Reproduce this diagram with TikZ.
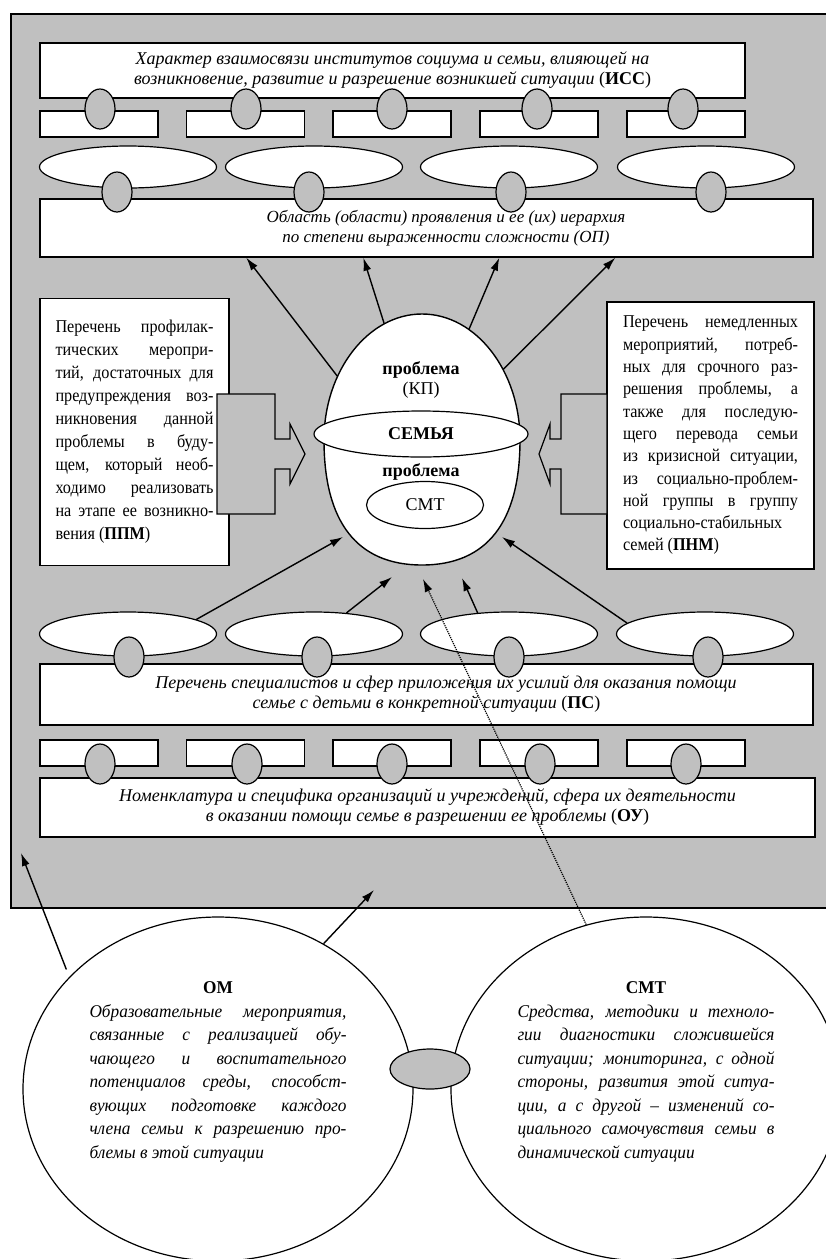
\documentclass[tikz,border=0pt]{standalone}
\usepackage{fontspec}
\setmainfont{Liberation Serif}
\newfontfamily\uzk[FakeStretch=0.9]{Liberation Serif}
\newfontfamily\uzkk[FakeStretch=0.96]{Liberation Serif}
\usepackage{tikz}
\usetikzlibrary{shapes.geometric,arrows.meta}
\definecolor{fon}{RGB}{192,192,192}
\hyphenpenalty=10000
\exhyphenpenalty=10000

\begin{document}
\begin{tikzpicture}[x=1pt,y=-1pt,
	box/.style={draw,line width=1.4pt,fill=white,inner sep=0pt},
	okno/.style={box,minimum width=118pt,minimum height=26pt},
	oval/.style={ellipse,draw,line width=1.2pt,fill=white,minimum width=177pt,minimum height=42pt,inner sep=0pt},
	zveno/.style={ellipse,draw,line width=1.2pt,fill=fon,minimum width=30pt,minimum height=40pt,inner sep=0pt},
	strel/.style={line width=1.4pt,-{Latex[length=13pt,width=8pt]}},
	kurs/.style={font=\fontsize{18}{20}\selectfont\itshape,align=center},
	pryam/.style={font=\fontsize{18}{20}\selectfont},
	spisok/.style={box,minimum height=267pt,align=justify,font=\uzk\fontsize{18}{23}\selectfont},
	krug/.style={ellipse,draw,line width=1.2pt,fill=white,minimum width=390pt,minimum height=344pt},
	podpis/.style={text width=257pt,align=justify,font=\uzkk\fontsize{18}{23.5}\selectfont}]
	\useasboundingbox (0,0) rectangle (826,1259);

	\fill[fon] (11,14) rectangle (826,908);
	\draw[line width=1.4pt] (826,14) -- (11,14) -- (11,908) -- (826,908);

	\node[box,kurs,minimum width=705pt,minimum height=55pt] (iss) at (392.5,70.5) {Характер взаимосвязи институтов социума и семьи, влияющей на\\возникновение, развитие и разрешение возникшей ситуации \textup{(\textbf{ИСС})}};
	\foreach \x [count=\i] in {99,245.5,392,539,686}
		\node[okno] (ok\i) at (\x,124) {};
	\foreach \x [count=\i] in {128,314,509,706}
		\node[oval] (ov\i) at (\x,167) {};
	\node[box,kurs,font=\fontsize{17}{20}\selectfont\itshape,minimum width=773pt,minimum height=58pt] (op) at (426.5,228) {\hspace*{39pt}Область (области) проявления и ее (их) иерархия\\\hspace*{39pt}по степени выраженности сложности (ОП)};
	\foreach \x [count=\i] in {100,246,392,537,683}
		\node[zveno] (zv\i) at (\x,109) {};
	\foreach \x [count=\i] in {117,309,511,711}
		\node[zveno] (zo\i) at (\x,192) {};

	\node[spisok,minimum width=189pt,text width=158pt] (ppm) at (134.5,432) {Перечень профилак-\linebreak тических меропри-\linebreak тий, достаточных для\linebreak предупреждения воз-\linebreak никновения данной\linebreak проблемы в буду-\linebreak щем, который необ-\linebreak ходимо реализовать\linebreak на этапе ее возникно-\linebreak вения (\textbf{ППМ})};
	\node[spisok,minimum width=207pt,text width=175pt,font=\uzk\fontsize{18}{22.3}\selectfont] (pnm) at (710.5,435.5) {Перечень немедленных\linebreak мероприятий, потреб-\linebreak ных для срочного раз-\linebreak решения проблемы, а\linebreak также для последую-\linebreak щего перевода семьи\linebreak из кризисной ситуации,\linebreak из социально-проблем-\linebreak ной группы в группу\linebreak социально-стабильных\linebreak семей (\textbf{ПНМ})};

	\draw[line width=1.2pt,fill=fon] (217,394) -- (275,394) -- (275,439) -- (290,439) -- (290,424) -- (305,454) -- (290,484) -- (290,469) -- (275,469) -- (275,514) -- (217,514) -- cycle;
	\draw[line width=1.2pt,fill=fon] (607,394) -- (561,394) -- (561,439) -- (550,439) -- (550,424) -- (539,454) -- (550,484) -- (550,469) -- (561,469) -- (561,514) -- (607,514) -- cycle;

	% egg: narrow top, full bottom
	\node[ellipse,minimum width=196pt,minimum height=251pt] (egg) at (422,440) {};
	\draw[line width=1.4pt,fill=white] (324,440) .. controls (324,371) and (368,314) .. (422,314) .. controls (476,314) and (520,371) .. (520,440) .. controls (520,522) and (487,565) .. (422,565) .. controls (357,565) and (324,522) .. cycle;
	\node[pryam,align=center] (kp) at (421,380) {\textbf{проблема}\\(КП)};
	\node[oval,pryam,minimum width=214pt,minimum height=46pt] (sem) at (421,434) {\textbf{СЕМЬЯ}};
	\node[pryam] (pr) at (421,472) {\textbf{проблема}};
	\node[oval,pryam,minimum width=117pt,minimum height=47pt] (smt) at (425,505) {СМТ};

	\foreach \x [count=\i] in {128,314,509,705}
		\node[oval,minimum height=44pt] (nv\i) at (\x,634) {};
	\node[box,kurs,minimum width=773pt,minimum height=61pt] (ps) at (426.5,694.5) {\hspace*{39pt}Перечень специалистов и сфер приложения их усилий для оказания помощи\\семье с детьми в конкретной ситуации \textup{(\textbf{ПС})}};
	\foreach \x [count=\i] in {99,245.5,392,539,686}
		\node[okno] (on\i) at (\x,753) {};
	\node[box,kurs,minimum width=775pt,minimum height=59pt] (ou) at (427.5,807.5) {Номенклатура и специфика организаций и учреждений, сфера их деятельности\\в оказании помощи семье в разрешении ее проблемы \textup{(\textbf{ОУ})}};
	\foreach \x [count=\i] in {129,317,509,708}
		\node[zveno] (zn\i) at (\x,657) {};
	\foreach \x [count=\i] in {100,247,392,540,686}
		\node[zveno] (zu\i) at (\x,764) {};

	\node[krug] (om) at (218,1089) {};
	\node[krug] (smtc) at (646,1089) {};
	\node[zveno,minimum width=80pt] (svz) at (430,1069) {};
	\node[podpis] (omtxt) at (218,1072) {{\centering\textbf{ОМ}\par}\itshape Образовательные мероприятия,\linebreak связанные с реализацией обу-\linebreak чающего и воспитательного\linebreak потенциалов среды, способст-\linebreak вующих подготовке каждого\linebreak члена семьи к разрешению про-\linebreak блемы в этой ситуации};
	\node[podpis] (smttxt) at (646,1072) {{\centering\textbf{СМТ}\par}\itshape Средства, методики и техноло-\linebreak гии диагностики сложившейся\linebreak ситуации; мониторинга, с одной\linebreak стороны, развития этой ситуа-\linebreak ции, а с другой – изменений со-\linebreak циального самочувствия семьи в\linebreak динамической ситуации};

	\coordinate (k1) at (343,537);
	\coordinate (k2) at (392,577);
	\coordinate (k3) at (462,578);
	\coordinate (k4) at (502,537);
	\coordinate (k5) at (423,579);
	\coordinate (k6) at (21,853);
	\coordinate (k7) at (374,890);

	\draw[strel] (egg.143) -- ([xshift=207pt]op.south west);
	\draw[strel] (egg.108) -- ([xshift=324pt]op.south west);
	\draw[strel] (egg.67) -- ([xshift=460pt]op.south west);
	\draw[strel] (egg.41) -- ([xshift=576pt]op.south west);
	\draw[strel] (nv1.12) -- (k1);
	\draw[strel] (nv2.33) -- (k2);
	\draw[strel] (nv3.146) -- (k3);
	\draw[strel] (nv4.172) -- (k4);
	\draw[strel,line width=1.2pt,densely dotted] (smtc.110) -- (k5);
	\draw[strel,shorten <=8pt] (om.143) -- (k6);
	\draw[strel] (om.54) -- (k7);
\end{tikzpicture}
\end{document}
